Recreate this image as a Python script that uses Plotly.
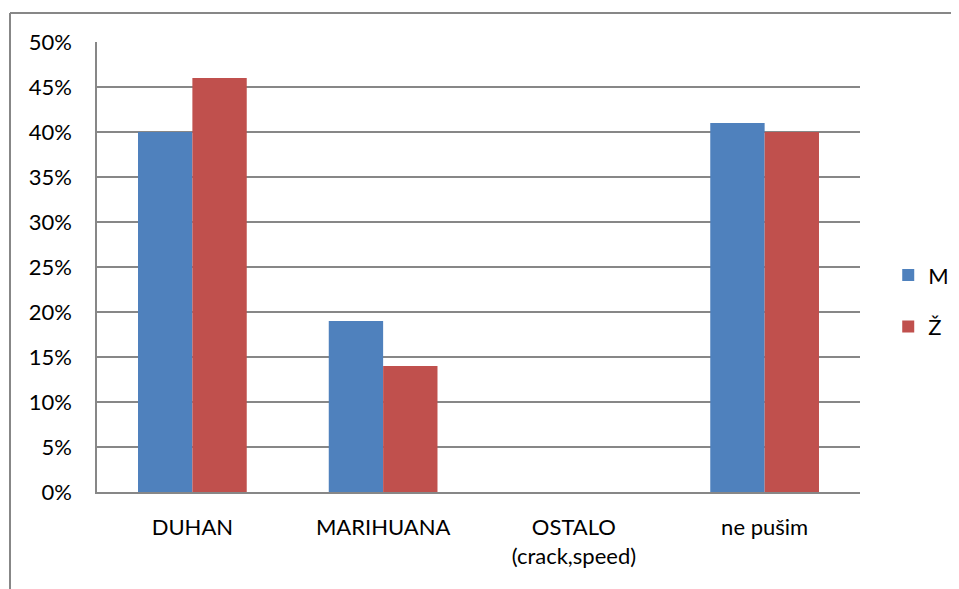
import plotly.graph_objects as go

categories = ["DUHAN", "MARIHUANA", "OSTALO<br>(crack,speed)", "ne pušim"]
m_values = [0.40, 0.19, 0.0, 0.41]
z_values = [0.46, 0.14, 0.0, 0.40]
y_ticks = [0, 0.05, 0.10, 0.15, 0.20, 0.25, 0.30, 0.35, 0.40, 0.45, 0.50]

font = "Lato, Calibri, Noto Sans, sans-serif"

fig = go.Figure()
fig.add_trace(go.Bar(x=categories, y=m_values, name="M",
                     marker=dict(color="#4f81bd", line=dict(width=0)), legendgroup="m"))
fig.add_trace(go.Bar(x=categories, y=z_values, name="Ž",
                     marker=dict(color="#c0504d", line=dict(width=0)), legendgroup="z"))

# page body adds an 8px margin, so shift everything up/left by 8
W, H = 959, 589
l, r, t, b = 89, 107, 34, 105
pw, ph = W - l - r, H - t - b
fx = (2 - l) / pw
fy = (H - b - 5) / ph
fig.add_shape(type="line", xref="paper", yref="paper", x0=fx, x1=fx, y0=-0.4, y1=fy,
              line=dict(color="#878787", width=2))
fig.add_shape(type="line", xref="paper", yref="paper", x0=fx, x1=1.3, y0=fy, y1=fy,
              line=dict(color="#878787", width=2))

fig.update_layout(
    width=W, height=H,
    margin=dict(l=l, r=r, t=t, b=b, autoexpand=False),
    paper_bgcolor="white", plot_bgcolor="white",
    barmode="group", bargap=0.43, bargroupgap=0,
    font=dict(family=font, size=22, color="#000000"),
    showlegend=True,
    legend=dict(x=1.037, y=0.424, xanchor="left", yanchor="middle",
                tracegroupgap=20, font=dict(size=22), itemwidth=30),
    xaxis=dict(showline=True, linecolor="#878787", linewidth=2, ticks="",
               ticklabelstandoff=15, showgrid=False),
    yaxis=dict(range=[0, 0.5], tickvals=y_ticks, tickformat=".0%",
               showline=True, linecolor="#878787", linewidth=1.5,
               showgrid=True, gridcolor="#878787", gridwidth=1.5,
               ticks="", ticklabelstandoff=19, zeroline=False),
)

fig.write_html("out.html")
